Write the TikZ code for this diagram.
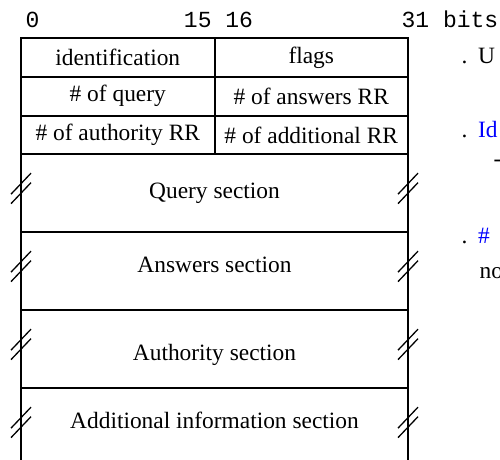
\documentclass[tikz,border=0pt]{standalone}
\usepackage{fontspec}
\setmainfont{Liberation Serif}
\setmonofont{Liberation Mono}
\usetikzlibrary{positioning}
\definecolor{noteblue}{HTML}{0000FF}

\begin{document}
\begin{tikzpicture}[
    x=1pt, y=-1pt,
    font=\fontsize{23.4}{28}\selectfont,
    field/.style={draw, line width=2pt, outer sep=0pt, inner sep=0pt, minimum width=193.5pt, minimum height=38.8pt},
    section/.style={draw, line width=2pt, outer sep=0pt, inner sep=0pt, minimum width=387pt, minimum height=78pt},
    seclabel/.style={inner sep=0pt},
    bitnum/.style={font=\ttfamily\fontsize{23}{28}\selectfont, anchor=base},
    note/.style={anchor=base west, inner sep=0pt},
    frame/.style={line width=2pt},
    cut/.style={line width=1.3pt}
]
    \useasboundingbox (0,0) rectangle (500,459);

    % Bit positions
    \node[bitnum] (bit0) at (32.5,27) {0};
    \node[bitnum] (bit15) at (218.5,27) {15 16};
    \node[bitnum] (bit31) at (450,27) {31 bits};

    % Header fields
    \node[field, anchor=north west] (ident) at (21,38) {identification};
    \node[field, right=0pt of ident] (flags) {flags};
    \node[field, below=0pt of ident] (nquery) {\# of query};
    \node[field, right=0pt of nquery] (nanswer) {\# of answers RR};
    \node[field, below=0pt of nquery] (nauth) {\# of authority RR};
    \node[field, right=0pt of nauth] (naddl) {\# of additional RR};

    % Variable length sections
    \node[section, below=0pt of nauth.south east] (query) {};
    \node[section, below=0pt of query] (answers) {};
    \node[section, below=0pt of answers] (authority) {};
    \node[section, draw=none, minimum height=72pt, below=0pt of authority] (addl) {};
    \draw[frame] (addl.north west) -- (addl.south west);
    \draw[frame] (addl.north east) -- (addl.south east);

    \node[seclabel] (querytext) at (query.center) {Query section};
    \node[seclabel] (answerstext) at ([yshift=7pt]answers.center) {Answers section};
    \node[seclabel] (authtext) at ([yshift=-5.5pt]authority.center) {Authority section};
    \node[seclabel] (addltext) at ([yshift=4pt]addl.center) {Additional information section};

    % Break marks on both sides
    \foreach \sec in {query,answers,authority,addl}
      \foreach \side in {west,east}
        \foreach \dy in {39.75,49.25}
          \draw[cut] ([shift={(-10,\dy)}]\sec.north \side) -- ++(20,-21);

    % Notes on the right
    \node[note] (usenote) at (461.4,63) {\makebox[16.6pt][l]{.}U};
    \node[note] (idnote) at (461.4,137) {\makebox[16.6pt][l]{.}\textcolor{noteblue}{Id}};
    \node[note] (dashnote) at (493.5,166) {-};
    \node[note] (countnote) at (461.4,243) {\makebox[16.6pt][l]{.}\textcolor{noteblue}{\#}};
    \node[note] (nonote) at (479.5,278) {no};
\end{tikzpicture}
\end{document}
